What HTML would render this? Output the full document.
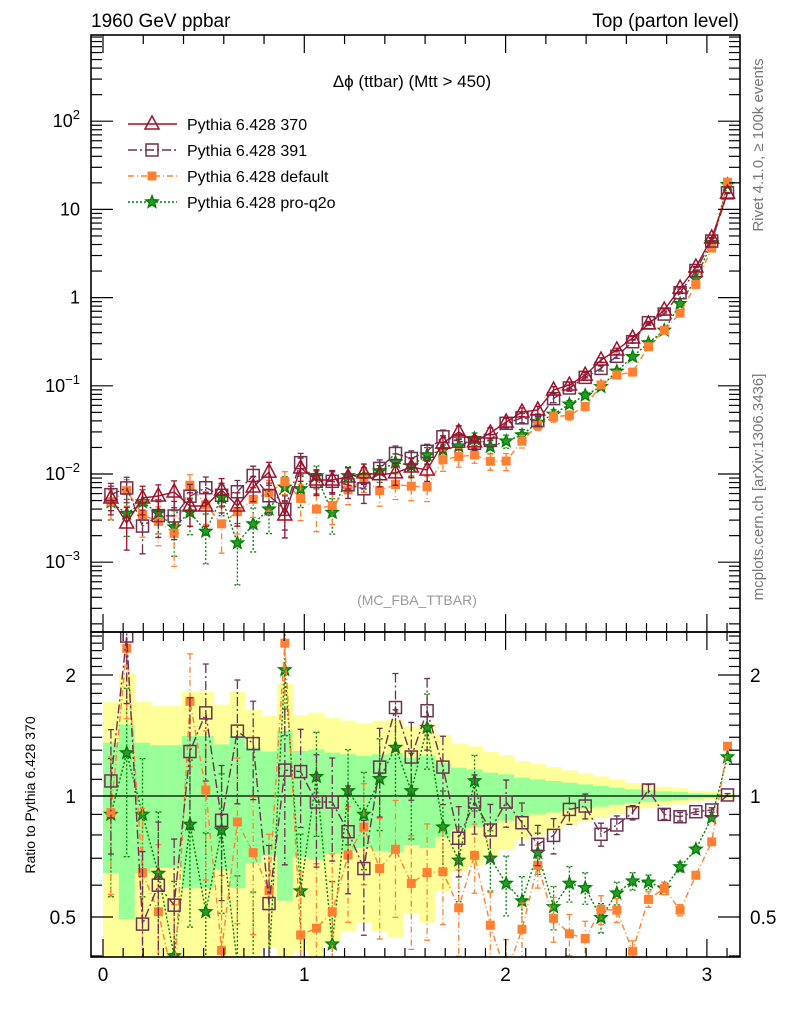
<!DOCTYPE html>
<html><head><meta charset="utf-8"><style>
html,body{margin:0;padding:0;background:#fff;width:786px;height:1024px;overflow:hidden;}
svg{display:block;font-family:"Liberation Sans",sans-serif;}
</style></head><body>
<svg id="chart" width="786" height="1024" viewBox="0 0 786 1024" xmlns="http://www.w3.org/2000/svg">
<defs>
<clipPath id="cm"><rect x="91" y="35" width="649" height="597"/></clipPath>
<clipPath id="cr"><rect x="91" y="632" width="649" height="325"/></clipPath>
</defs>
<g id="bands" clip-path="url(#cr)"></g>
<line x1="91" y1="796" x2="740" y2="796" stroke="#000" stroke-width="1.3"/>
<g id="mainSeries" clip-path="url(#cm)"></g>
<g id="ratioSeries" clip-path="url(#cr)"></g>
<g id="axes"></g>
<rect x="91" y="35" width="649" height="597" fill="none" stroke="#000" stroke-width="1.6"/>
<rect x="91" y="632" width="649" height="325" fill="none" stroke="#000" stroke-width="1.6"/>
<text x="91" y="27" font-size="19">1960 GeV ppbar</text>
<text x="739" y="27" font-size="19" text-anchor="end">Top (parton level)</text>
<text x="412" y="87" font-size="17" text-anchor="middle">Δϕ (ttbar) (Mtt &gt; 450)</text>
<text x="417" y="605" font-size="14" fill="#999" text-anchor="middle">(MC_FBA_TTBAR)</text>
<text transform="translate(763,145) rotate(-90)" font-size="15" fill="#777" text-anchor="middle">Rivet 4.1.0, ≥ 100k events</text>
<text transform="translate(763,487) rotate(-90)" font-size="15" fill="#777" text-anchor="middle">mcplots.cern.ch [arXiv:1306.3436]</text>
<text transform="translate(35,795) rotate(-90)" font-size="14" text-anchor="middle">Ratio to Pythia 6.428 370</text>
<g id="legend"></g>
<script>
const categories = [0,1,2,3,4,5,6,7,8,9,10,11,12,13,14,15,16,17,18,19,20,21,22,23,24,25,26,27,28,29,30,31,32,33,34,35,36,37,38,39];
const nBins = 40;
const val370 = [0.00535,0.00278,0.00535,0.00563,0.00625,0.00434,0.00434,0.00659,0.00434,0.00713,0.0105,0.00343,0.0117,0.00855,0.00855,0.00925,0.0103,0.0098,0.0103,0.012,0.0111,0.0224,0.0299,0.0231,0.0292,0.0389,0.0505,0.0532,0.0896,0.102,0.132,0.196,0.255,0.348,0.502,0.723,1.28,2.22,4.74,15.3];
const sigma370 = [0.357,0.507,0.357,0.337,0.337,0.41,0.41,0.344,0.41,0.319,0.29,0.451,0.294,0.306,0.282,0.27,0.258,0.27,0.277,0.245,0.258,0.21,0.176,0.165,0.143,0.132,0.111,0.1,0.09,0.079,0.069,0.059,0.049,0.039,0.033,0.027,0.023,0.015,0.012,0.008];
const ratio391 = [1.09,2.5,0.48,0.60,0.535,1.29,1.61,0.87,1.45,1.35,0.54,1.16,1.15,0.966,0.966,0.815,0.66,1.18,1.66,1.25,1.63,1.18,0.785,0.966,0.823,0.966,0.858,0.758,0.798,0.926,0.944,0.803,0.847,0.909,1.035,0.90,0.888,0.914,0.923,1.006];
const ratioDefault = [0.909,2.33,0.645,0.515,0.34,1.72,1.035,0.413,0.862,0.723,0.582,2.4,0.451,0.469,0.515,0.713,0.837,0.66,0.737,0.606,0.645,0.648,0.527,0.712,0.477,0.36,0.466,0.672,0.496,0.454,0.442,0.522,0.52,0.411,0.553,0.589,0.52,0.635,0.769,1.33];
const ratioQ2o = [0.90,1.28,0.90,0.642,0.4,0.85,0.515,0.823,0.38,0.38,0.38,2.06,0.58,1.117,0.428,1.03,0.90,1.104,1.32,1.03,1.48,0.837,0.692,1.09,0.70,0.606,0.548,0.723,0.53,0.606,0.591,0.498,0.573,0.614,0.61,0.589,0.666,0.737,0.883,1.25];
const mainTickLabels = ["10^-3","10^-2","10^-1","1","10","10^2"];
const mainTickValues = [0.001,0.01,0.1,1,10,100];
const ratioTickValues = [0.5,1,2];
const ratioTickLabels = ["0.5","1","2"];
const xTickValues = [0,1,2,3];
const xTickLabels = ["0","1","2","3"];
const legendLabels = ["Pythia 6.428 370","Pythia 6.428 391","Pythia 6.428 default","Pythia 6.428 pro-q2o"];

const NS="http://www.w3.org/2000/svg";
const X0=103, XS=201.3;
const xs=v=>X0+v*XS;
const ym=v=>474-(Math.log10(v)+2)*88.2;
const yr=r=>796-Math.log2(r)*121;
const bw=Math.PI/nBins;
function mk(tag,attrs,parent){const e=document.createElementNS(NS,tag);for(const k in attrs)e.setAttribute(k,attrs[k]);parent.appendChild(e);return e;}

const styles=[
 {c:"#a0102a",dash:"",m:"tri"},
 {c:"#6e3050",dash:"9,3,2,3",m:"sq"},
 {c:"#ff8030",dash:"6,3,1,3",m:"fsq"},
 {c:"#008000",dash:"2,2",m:"star"}];
function marker(g,type,x,y,c,name){
 let e;
 if(type==="tri"){e=mk("polygon",{points:`${x},${y-8} ${x-7},${y+5} ${x+7},${y+5}`,fill:"none",stroke:c,"stroke-width":1.5},g);}
 else if(type==="sq"){e=mk("rect",{x:x-6,y:y-6,width:12,height:12,fill:"none",stroke:c,"stroke-width":1.5},g);}
 else if(type==="fsq"){e=mk("rect",{x:x-4.5,y:y-4.5,width:9,height:9,fill:c},g);}
 else {let p=[];for(let k=0;k<10;k++){const r=k%2?2.8:6.5;const a=-Math.PI/2+k*Math.PI/5;p.push((x+r*Math.cos(a)).toFixed(1)+","+(y+r*Math.sin(a)).toFixed(1));}
  e=mk("polygon",{points:p.join(" "),fill:"#2a9a2a",stroke:c,"stroke-width":1.3},g);}
 
 
}

const bands=document.getElementById("bands");
categories.forEach(i=>{
 const s=sigma370[i];
 const x1=xs(i*bw),x2=xs((i+1)*bw);
 const yt=yr(1+2*s), yb=yr(Math.max(1-2*s,0.01));
 const ry=mk("rect",{x:x1,y:yt,width:x2-x1+0.5,height:yb-yt,fill:"#ffff99"},bands);
 
 
 const gt=yr(1+s), gb=yr(1-s);
 const rg=mk("rect",{x:x1,y:gt,width:x2-x1+0.5,height:gb-gt,fill:"#99ff99"},bands);
 
 
});

function drawSeries(g,vals,errs,yf,st,name){
 const grp=mk("g",{},g);
 
 
 const pts=categories.map(i=>[xs((i+0.5)*bw),yf(vals[i])]);
 const pl=mk("polyline",{points:pts.map(p=>p[0].toFixed(1)+","+p[1].toFixed(1)).join(" "),fill:"none",stroke:st.c,"stroke-width":1.4,"stroke-dasharray":st.dash},grp);
 
 
 categories.forEach(i=>{
  const x=pts[i][0];
  const hi=yf(vals[i]*(1+errs[i])), lo=yf(vals[i]*Math.max(1-errs[i],0.02));
  const eb=mk("path",{d:`M${x},${hi}V${lo}M${x-3},${hi}H${x+3}M${x-3},${lo}H${x+3}`,stroke:st.c,"stroke-width":1.3,fill:"none","stroke-dasharray":st.dash},grp);
  
  
 });
 categories.forEach(i=>marker(grp,st.m,pts[i][0],pts[i][1],st.c,name+'-marker'));
}
const ratios=[null,ratio391,ratioDefault,ratioQ2o];
const names=["pythia-370","pythia-391","pythia-default","pythia-pro-q2o"];
const mainG=document.getElementById("mainSeries"), ratG=document.getElementById("ratioSeries");
[3,2,1,0].forEach(k=>{
 const vals=k===0?val370:categories.map(i=>val370[i]*ratios[k][i]);
 const errs=k===0?sigma370:categories.map(i=>sigma370[i]/Math.sqrt(ratios[k][i]));
 drawSeries(mainG,vals,errs,ym,styles[k],names[k]+'-main');
 if(k>0) drawSeries(ratG,ratios[k],errs,yr,styles[k],names[k]+'-ratio');
});

const ax=document.getElementById("axes");
function tick(x1,y1,x2,y2){const l=mk("line",{x1,y1,x2,y2,stroke:"#000","stroke-width":1.2},ax);}
for(let d=-4;d<=3;d++){for(let m=1;m<10;m++){const v=m*Math.pow(10,d);const y=ym(v);if(y<36||y>631)continue;const L=m===1?22:11;tick(91,y,91+L,y);tick(740,y,740-L,y);}}
for(let v=0.4;v<=2.6;v+=0.1){const y=yr(v);if(y<633||y>956)continue;const maj=Math.abs(v-0.5)<1e-6||Math.abs(v-1)<1e-6||Math.abs(v-2)<1e-6;const L=maj?22:11;tick(91,y,91+L,y);tick(740,y,740-L,y);}
for(let k=0;k<=31;k++){const v=k*0.1;const x=xs(v);if(x>739)break;const maj=k%10===0;const L=maj?18:9;
 tick(x,957,x,957-L);tick(x,632,x,632+L);tick(x,632,x,632-L);
 if(k%2===0){tick(x,35,x,35+L);}}
mainTickValues.forEach((v,j)=>{
 const lab=mainTickLabels[j];const y=ym(v);
 const t=mk("text",{x:80,y:y+6,"font-size":18,"text-anchor":"end"},ax);
 
 if(lab.indexOf("^")>0){const [b,e]=lab.split("^");t.textContent=b;const ts=mk("tspan",{dy:-8,"font-size":13},t);ts.textContent=e.replace("-","−");}
 else t.textContent=lab;
});
ratioTickValues.forEach((v,j)=>{
 const y=yr(v);
 const t=mk("text",{x:76,y:y+7,"font-size":19,"text-anchor":"end"},ax);t.textContent=ratioTickLabels[j];
 
 const t2=mk("text",{x:750,y:y+7,"font-size":19},ax);t2.textContent=ratioTickLabels[j];
 
});
xTickValues.forEach((v,j)=>{
 const t=mk("text",{x:xs(v),y:981,"font-size":19,"text-anchor":"middle"},ax);t.textContent=xTickLabels[j];
 
});

const lg=document.getElementById("legend");
legendLabels.forEach((lab,k)=>{
 const y=124+k*26;const st=styles[k];
 const g=mk("g",{},lg);
 
 
 mk("line",{x1:128,y1:y,x2:177,y2:y,stroke:st.c,"stroke-width":1.4,"stroke-dasharray":st.dash},g);
 marker(g,st.m,152,y,st.c,'legend-marker');
 const t=mk("text",{x:187,y:y+6,"font-size":16},g);t.textContent=lab;
});
</script>
</svg>
</body></html>
